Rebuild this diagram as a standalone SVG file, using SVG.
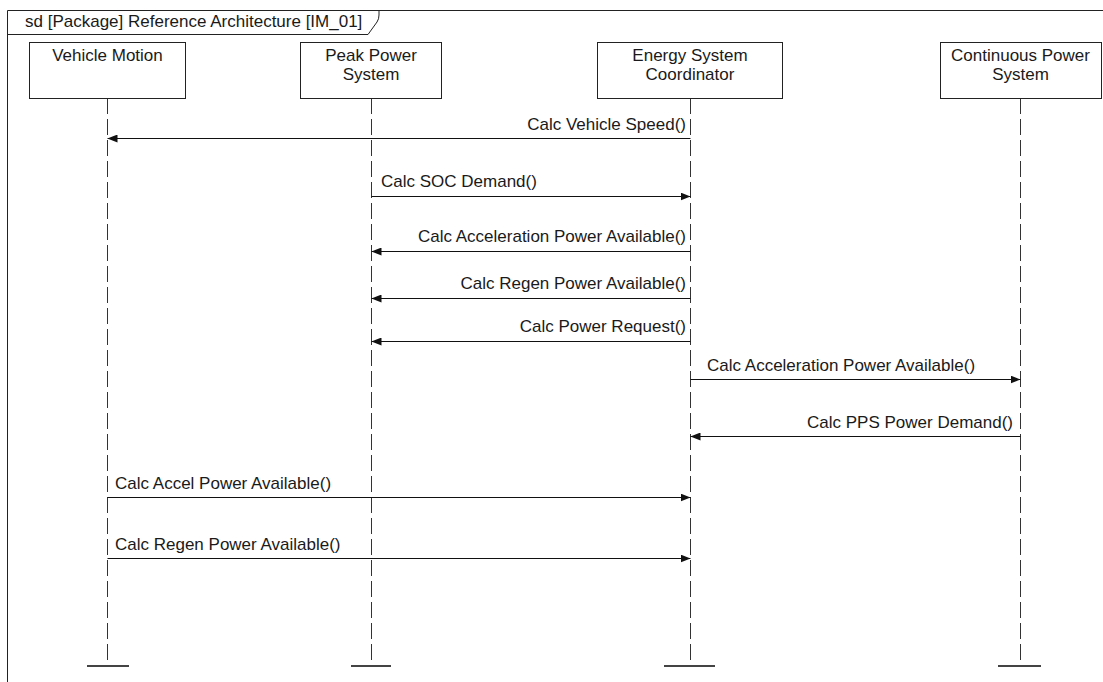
<svg xmlns="http://www.w3.org/2000/svg" width="1103" height="682" viewBox="0 0 1103 682">
  <style>
    .frame { fill: none; stroke: #222; stroke-width: 1; }
    .box { fill: #fff; stroke: #222; stroke-width: 1; }
    .life { stroke: #333; stroke-width: 1; stroke-dasharray: 16 5; fill: none; }
    .end { stroke: #444; stroke-width: 2; }
    .msg { stroke: #111; stroke-width: 1; fill: none; }
    text { font-family: "Liberation Sans", Arial, sans-serif; font-size: 17px; fill: #1a1a1a; }
    .c { text-anchor: middle; }
    .r { text-anchor: end; }
  </style>
  <defs>
    <marker id="arrow" viewBox="0 0 10 8" refX="10" refY="4" markerWidth="10" markerHeight="8" markerUnits="userSpaceOnUse" orient="auto">
      <path d="M0,0 L10,4 L0,8 Z" fill="#111"/>
    </marker>
  </defs>
  <rect width="1103" height="682" fill="#fff"/>

  <!-- interaction frame with name tab -->
  <g id="frame">
    <path class="frame" d="M7.5,700 V10.5 H1110"/>
    <path class="frame" d="M7.5,34.5 H368 L377,22 Q379,19 379,15 V10.5"/>
    <text x="25" y="27">sd [Package] Reference Architecture [IM_01]</text>
  </g>

  <!-- lifelines -->
  <g id="vehicle-motion">
    <line class="life" x1="107.5" y1="98" x2="107.5" y2="663"/>
    <line class="end" x1="87" y1="666" x2="129" y2="666"/>
    <rect class="box" x="29.5" y="42.5" width="156" height="56"/>
    <text class="c" x="107.5" y="61">Vehicle Motion</text>
  </g>
  <g id="peak-power-system">
    <line class="life" x1="371.5" y1="98" x2="371.5" y2="663"/>
    <line class="end" x1="351" y1="666" x2="391" y2="666"/>
    <rect class="box" x="300.5" y="42.5" width="141" height="56"/>
    <text class="c" x="371" y="61">Peak Power</text>
    <text class="c" x="371" y="80">System</text>
  </g>
  <g id="energy-system-coordinator">
    <line class="life" x1="690.5" y1="98" x2="690.5" y2="663"/>
    <line class="end" x1="664" y1="666" x2="715" y2="666"/>
    <rect class="box" x="597.5" y="42.5" width="185" height="56"/>
    <text class="c" x="690" y="61">Energy System</text>
    <text class="c" x="690" y="80">Coordinator</text>
  </g>
  <g id="continuous-power-system">
    <line class="life" x1="1020.5" y1="98" x2="1020.5" y2="663"/>
    <line class="end" x1="998" y1="666" x2="1041" y2="666"/>
    <rect class="box" x="940.5" y="42.5" width="161" height="56"/>
    <text class="c" x="1020.5" y="61">Continuous Power</text>
    <text class="c" x="1020.5" y="80">System</text>
  </g>

  <!-- messages -->
  <g id="connectors">
    <line class="msg" x1="690.5" y1="138.5" x2="107.5" y2="138.5" marker-end="url(#arrow)"/>
    <text class="r" x="686" y="130">Calc Vehicle Speed()</text>

    <line class="msg" x1="371.5" y1="196.5" x2="690.5" y2="196.5" marker-end="url(#arrow)"/>
    <text x="381" y="187">Calc SOC Demand()</text>

    <line class="msg" x1="690.5" y1="251.5" x2="371.5" y2="251.5" marker-end="url(#arrow)"/>
    <text class="r" x="686" y="242">Calc Acceleration Power Available()</text>

    <line class="msg" x1="690.5" y1="298.5" x2="371.5" y2="298.5" marker-end="url(#arrow)"/>
    <text class="r" x="686" y="289">Calc Regen Power Available()</text>

    <line class="msg" x1="690.5" y1="341.5" x2="371.5" y2="341.5" marker-end="url(#arrow)"/>
    <text class="r" x="686" y="332">Calc Power Request()</text>

    <line class="msg" x1="690.5" y1="379.5" x2="1020.5" y2="379.5" marker-end="url(#arrow)"/>
    <text x="707" y="371">Calc Acceleration Power Available()</text>

    <line class="msg" x1="1020.5" y1="436.5" x2="690.5" y2="436.5" marker-end="url(#arrow)"/>
    <text class="r" x="1013" y="428">Calc PPS Power Demand()</text>

    <line class="msg" x1="107.5" y1="497.5" x2="690.5" y2="497.5" marker-end="url(#arrow)"/>
    <text x="115" y="489">Calc Accel Power Available()</text>

    <line class="msg" x1="107.5" y1="558.5" x2="690.5" y2="558.5" marker-end="url(#arrow)"/>
    <text x="115" y="550">Calc Regen Power Available()</text>
  </g>
</svg>
